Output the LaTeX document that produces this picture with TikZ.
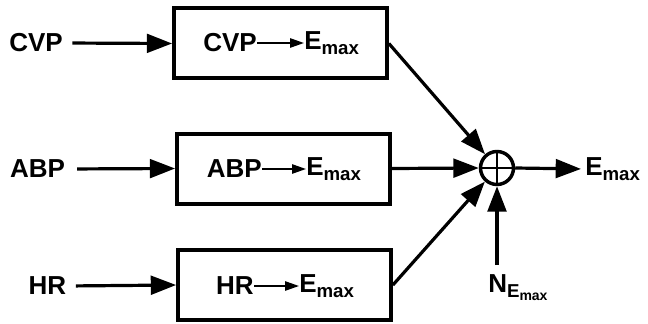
\documentclass[tikz,border=0pt]{standalone}
\usepackage{fontspec}
\setmainfont{Liberation Sans}
\usetikzlibrary{arrows.meta}
\newcommand\bigtxt{\fontsize{19.5}{21}\selectfont\bfseries}
\newcommand\subA[1]{\raisebox{-0.4ex}{\fontsize{14}{15}\selectfont\bfseries #1}}
\newcommand\subB[1]{\raisebox{-0.3ex}{\fontsize{10.5}{11}\selectfont\bfseries #1}}
\begin{document}
\begin{tikzpicture}[x=0.75pt,y=-0.75pt,
  lbl/.style={inner sep=0pt,font=\bigtxt},
  blk/.style={draw,line width=3pt,minimum width=212.75*0.75pt,minimum height=70*0.75pt,inner sep=0pt},
  conn/.style={line width=2.4pt,-{Triangle[length=19pt,width=14pt]}},
  thin/.style={line width=1.3pt,-{Triangle[length=10.5pt,width=7pt]}},
  sumc/.style={draw,circle,line width=2.6pt,minimum size=33*0.75pt,inner sep=0pt}]
\useasboundingbox (0,0) rectangle (648,324);
% inputs
\node[lbl] (in1) at (36,43) {CVP};
\node[lbl] (in2) at (37.5,169) {ABP};
\node[lbl] (in3) at (47.5,286) {HR};
% blocks
\node[blk] (b1) at (280.5,43.5) {};
\node[blk] (b2) at (283.5,168.5) {};
\node[blk] (b3) at (284.5,285) {};
% block contents
\node[lbl,anchor=east] (t1a) at (257,43) {CVP};
\node[lbl,anchor=west] (t1b) at (304,43) {E\subA{max}};
\draw[thin] (t1a.east) -- (t1b.west);
\node[lbl,anchor=east] (t2a) at (262,169) {ABP};
\node[lbl,anchor=west] (t2b) at (306,169) {E\subA{max}};
\draw[thin] (t2a.east) -- (t2b.west);
\node[lbl,anchor=east] (t3a) at (254,286) {HR};
\node[lbl,anchor=west] (t3b) at (299,286) {E\subA{max}};
\draw[thin] (t3a.east) -- (t3b.west);
% input arrows
\draw[conn,shorten <=7pt] (in1.east) -- (b1.west);
\draw[conn,shorten <=9pt] (in2.east) -- (b2.west);
\draw[conn,shorten <=7pt] (in3.east) -- (b3.west);
% sum
\node[sumc] (s) at (497,168) {};
\draw[line width=2pt] (s.north) -- (s.south) (s.west) -- (s.east);
\draw[conn] (b1.east) -- (s);
\draw[conn] (b2.east) -- (s.west);
\draw[conn] (b3.east) -- (s);
% output
\node[lbl,anchor=west] (out) at (585,169) {E\subA{max}};
\draw[conn,shorten >=3pt] (s.east) -- (out.west);
% noise
\coordinate (nstart) at (497,265);
\node[lbl,anchor=north west] (nz) at (488,274) {N\subA{E\subB{max}}};
\draw[conn] (nstart) -- (s.south);
\end{tikzpicture}
\end{document}
